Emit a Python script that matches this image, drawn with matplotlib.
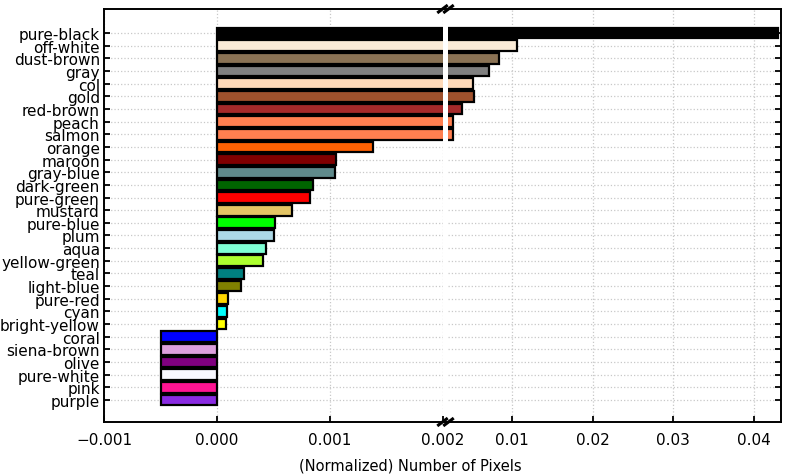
import matplotlib

matplotlib.use("Agg")
import matplotlib.pyplot as plt
from matplotlib.lines import Line2D
import numpy as np

# category labels, top to bottom
LABELS = ["pure-black", "off-white", "dust-brown", "gray", "col", "gold",
          "red-brown", "peach", "salmon", "orange", "maroon", "gray-blue",
          "dark-green", "pure-green", "mustard", "pure-blue", "plum", "aqua",
          "yellow-green", "teal", "light-blue", "pure-red", "cyan",
          "bright-yellow", "coral", "siena-brown", "olive", "pure-white",
          "pink", "purple"]
VALUES = [0.0430, 0.0106, 0.00835, 0.0071, 0.0051, 0.0052,
          0.00374, 0.00262, 0.00262, 0.00138, 0.00105, 0.00104,
          0.00085, 0.00082, 0.00066, 0.00051, 0.00050, 0.00043,
          0.00041, 0.00024, 0.00021, 0.00010, 0.00009,
          0.00008, -0.0005, -0.0005, -0.0005, -0.0005,
          -0.0005, -0.0005]
COLORS = ["#000000", "#FAEBD7", "#8B7355", "#808080", "#FFDAB9", "#A0522D",
          "#A52A2A", "#FF7F50", "#FF7F50", "#FF6103", "#800000", "#5F8A8B",
          "#006400", "#FF0000", "#E3C565", "#00FF00", "#ADD8E6", "#7FFFD4",
          "#ADFF2F", "#008080", "#808000", "#FFD700", "#00FFFF",
          "#FFFF00", "#0000FF", "#DDA0DD", "#800080", "#F8F8FF",
          "#FF1493", "#8A2BE2"]
LEFT_TICKS = [-0.001, 0.000, 0.001, 0.002]
RIGHT_TICKS = [0.01, 0.02, 0.03, 0.04]

plt.rcParams["font.family"] = "DejaVu Sans"
fig = plt.figure(figsize=(7.89, 4.77), dpi=100)
W, H = 789, 477
bot, top = 1 - 423 / H, 1 - 10 / H
ax_l = fig.add_axes([104 / W, bot, (443 - 104) / W, top - bot])
ax_r = fig.add_axes([448 / W, bot, (781 - 448) / W, top - bot])

y = np.arange(len(LABELS))[::-1]
for ax in (ax_l, ax_r):
    ax.barh(y, VALUES, height=0.85, color=COLORS, edgecolor="black", lw=1.6, zorder=2)
    ax.set_ylim(-1.74, len(LABELS) - 1 + 1.9)
    ax.set_yticks(y)
    ax.grid(True, ls=":", color="#c8c8c8", lw=0.9, zorder=0)
    ax.set_axisbelow(True)
    ax.tick_params(direction="in", labelsize=11, length=4, width=1.3)
    for s in ax.spines.values():
        s.set_linewidth(1.4)

ax_l.set_xlim(-0.001, 0.002)
ax_l.set_xticks(LEFT_TICKS)
ax_l.set_xticklabels([f"{t:.3f}".replace("-", "\u2212") for t in LEFT_TICKS])
ax_l.set_yticklabels(LABELS)
ax_l.spines["right"].set_visible(False)
ax_l.tick_params(axis="x", pad=7)
ax_l.tick_params(axis="y", pad=3)

ax_r.set_xlim(0.002, 0.0434)
ax_r.set_xticks(RIGHT_TICKS)
ax_r.set_xticklabels([f"{t:.2f}" for t in RIGHT_TICKS])
ax_r.spines["left"].set_visible(False)
ax_r.yaxis.tick_right()
ax_r.tick_params(axis="y", labelright=False)
ax_r.tick_params(axis="x", pad=7)

# bridge spines across the gap, then break marks
for yy in (10, 423):
    fig.add_artist(Line2D([443 / W, 448 / W], [1 - yy / H] * 2, color="black", lw=1.4))
    for dx in (-3, 3):
        xc = 445.5 + dx
        fig.add_artist(Line2D([(xc - 4) / W, (xc + 4) / W],
                              [1 - (yy + 3) / H, 1 - (yy - 3) / H],
                              color="black", lw=2.2))

fig.text(410 / W, 1 - 466 / H, "(Normalized) Number of Pixels",
         ha="center", va="center", fontsize=10.5)

fig.savefig("out.png", dpi=100)
